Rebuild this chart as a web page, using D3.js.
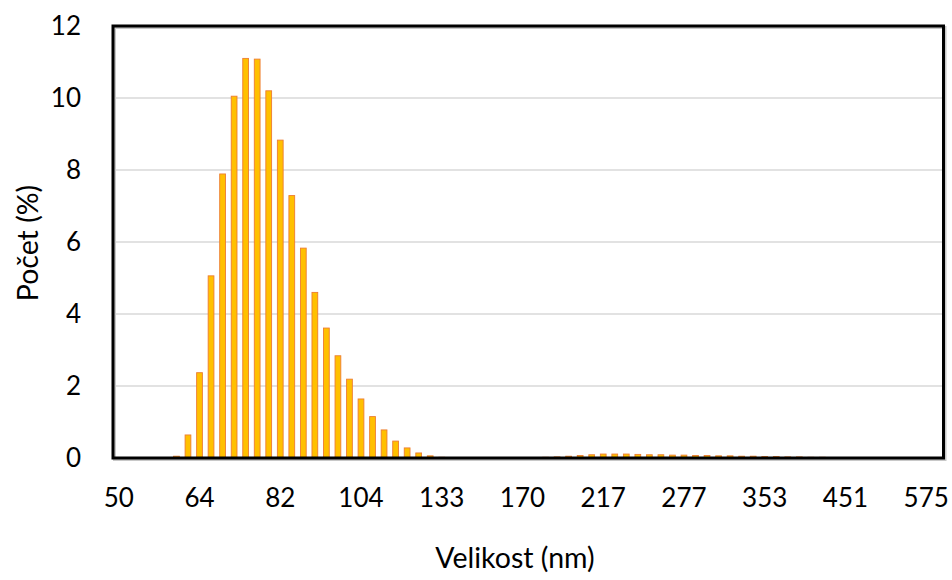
<!DOCTYPE html>
<html>
<head>
<meta charset="utf-8">
<script src="https://cdn.jsdelivr.net/npm/d3@7"></script>
<style>
  html, body { margin: 0; padding: 0; background: #fff; }
  svg text { font-family: Lato, "Open Sans", sans-serif; fill: #000; }
</style>
</head>
<body>
<svg id="chart" width="952" height="580"></svg>
<script>
// Size bins (nm)
const sizes = [50, 52, 54, 56, 57, 60, 62, 64, 66, 68, 71, 73, 76, 79, 82, 84, 87, 91, 94, 97,
  101, 104, 108, 112, 116, 120, 124, 128, 133, 138, 143, 148, 153, 158, 164, 170, 176, 182, 188, 195,
  202, 209, 217, 224, 232, 241, 249, 258, 267, 277, 287, 297, 307, 318, 330, 341, 353, 366, 379, 392,
  406, 421, 436, 451, 467, 484, 501, 519, 537, 556, 575, 595];
// Count (%)
const counts = [0, 0, 0, 0, 0, 0.05, 0.64, 2.37, 5.06, 7.89, 10.05, 11.1, 11.08, 10.2, 8.83, 7.29, 5.83, 4.6, 3.61, 2.84,
  2.19, 1.64, 1.15, 0.78, 0.47, 0.28, 0.14, 0.06, 0.02, 0.005, 0.005, 0, 0, 0, 0.005, 0.008, 0.01, 0.02, 0.03, 0.05,
  0.07, 0.09, 0.11, 0.11, 0.11, 0.1, 0.09, 0.09, 0.08, 0.08, 0.07, 0.07, 0.06, 0.06, 0.05, 0.05, 0.04, 0.04, 0.03, 0.03,
  0.02, 0.02, 0.015, 0.01, 0.008, 0.006, 0.005, 0.004, 0.003, 0.002, 0, 0];
const yTicks = [0, 2, 4, 6, 8, 10, 12];
const xLabelEvery = 7;
const xTitle = "Velikost (nm)";
const yTitle = "Počet (%)";

const svg = d3.select("#chart");
const L = 113, R = 943.5, T = 26, B = 458;

const x = d3.scaleBand().domain(d3.range(sizes.length)).range([L, R]).paddingInner(0.5).paddingOuter(0.25);
const y = d3.scaleLinear().domain([0, 12]).range([B, T]);

// gridlines
svg.append("g").selectAll("line").data(yTicks.filter(t => t > 0 && t < 12)).join("line")
  .attr("x1", L).attr("x2", R).attr("y1", d => y(d)).attr("y2", d => y(d))
  .attr("stroke", "#d9d9d9").attr("stroke-width", 1.5);

// bars
svg.append("g").selectAll("rect").data(counts).join("rect")
  .attr("x", (d, i) => x(i))
  .attr("width", x.bandwidth())
  .attr("y", d => y(d))
  .attr("height", d => Math.max(0.01, B - y(d)))
  .attr("fill", "#FFC000")
  .attr("stroke", "#ED7D31")
  .attr("stroke-width", 0.9)
  .attr("stroke-opacity", d => d > 0 ? 1 : 0.25);

// frame shadow + frame
svg.append("rect").attr("x", L + 1.5).attr("y", T + 1.5).attr("width", R - L).attr("height", B - T)
  .attr("fill", "none").attr("stroke", "#c8c8c8").attr("stroke-width", 3);
svg.append("rect").attr("x", L).attr("y", T).attr("width", R - L).attr("height", B - T)
  .attr("fill", "none").attr("stroke", "#000").attr("stroke-width", 3);

// y axis
const yAxis = d3.axisLeft(y).tickValues(yTicks).tickSize(0).tickPadding(0).tickFormat(d3.format("d"));
const gy = svg.append("g").attr("transform", `translate(81,0)`).call(yAxis);
gy.select(".domain").remove();
gy.selectAll("text").attr("font-size", 26).attr("font-family", "Lato, 'Open Sans', sans-serif").attr("fill", "#000");

// x axis
const xAxis = d3.axisBottom(x)
  .tickValues(d3.range(0, sizes.length, xLabelEvery))
  .tickFormat(i => sizes[i]).tickSize(0).tickPadding(0);
const gx = svg.append("g").attr("transform", `translate(0,482)`).call(xAxis);
gx.select(".domain").remove();
gx.selectAll("text").attr("font-size", 26).attr("dy", "0.95em").attr("font-family", "Lato, 'Open Sans', sans-serif").attr("fill", "#000");

// titles
svg.append("text").attr("x", 515).attr("y", 568).attr("text-anchor", "middle").attr("font-size", 28.5).text(xTitle);
svg.append("text").attr("transform", "translate(38,243) rotate(-90)").attr("text-anchor", "middle").attr("font-size", 28.5).text(yTitle);
</script>
</body>
</html>
